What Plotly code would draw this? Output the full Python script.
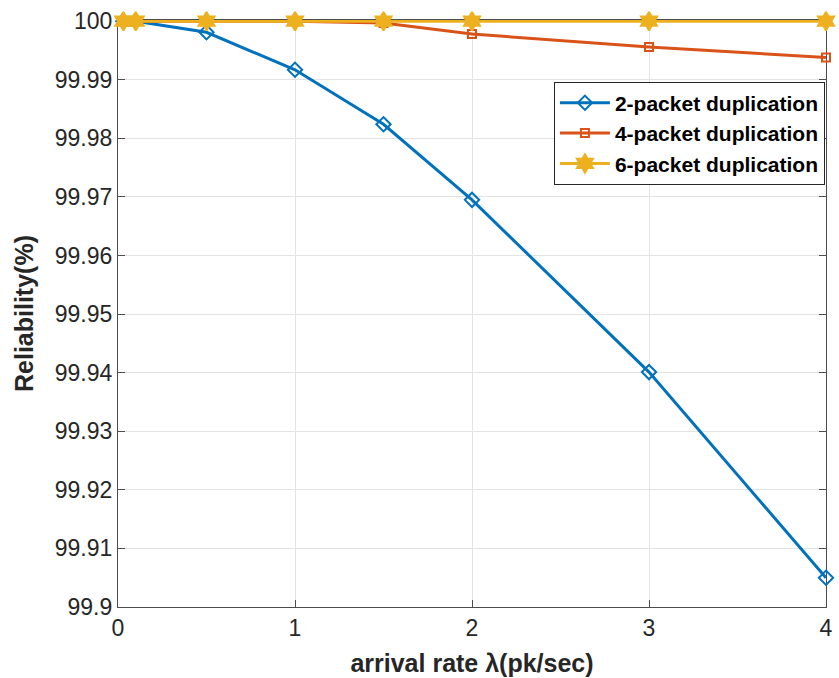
import plotly.graph_objects as go

x_vals = [0.03, 0.1, 0.5, 1, 1.5, 2, 3, 4]
dup2 = [100.0, 100.0, 99.9981, 99.9917, 99.9824, 99.9695, 99.9401, 99.9050]
dup4 = [100.0, 100.0, 100.0, 100.0, 99.9997, 99.9978, 99.9956, 99.9938]
dup6 = [100.0, 100.0, 100.0, 100.0, 100.0, 100.0, 100.0, 100.0]
series_names = ["2-packet duplication", "4-packet duplication", "6-packet duplication"]
y_ticks = [99.9, 99.91, 99.92, 99.93, 99.94, 99.95, 99.96, 99.97, 99.98, 99.99, 100]
y_tick_text = ["99.9", "99.91", "99.92", "99.93", "99.94", "99.95", "99.96", "99.97", "99.98", "99.99", "100"]
x_ticks = [0, 1, 2, 3, 4]

colors = ["#0072BD", "#D95319", "#EDB120"]
symbols = ["diamond-open", "square-open", "hexagram"]
sizes = [11, 8, 14]

fig = go.Figure()
for ys, name, c, s, sz in zip([dup2, dup4, dup6], series_names, colors, symbols, sizes):
    fig.add_trace(go.Scatter(
        x=x_vals, y=ys, name="<b>" + name + "</b>", mode="lines+markers",
        line=dict(color=c, width=3),
        marker=dict(symbol=s, size=sz, color=c, line=dict(color=c, width=2)),
        cliponaxis=False,
    ))

FONT = "Liberation Sans, Arial"
axis_common = dict(
    showline=True, linecolor="#4d4d4d", linewidth=1.2, mirror="ticks",
    ticks="inside", ticklen=7, tickcolor="#4d4d4d",
    showgrid=True, gridcolor="#e3e3e3", gridwidth=1, zeroline=False,
    tickfont=dict(family=FONT, size=23, color="#262626"),
    tickprefix="<b>", ticksuffix="</b>",
    automargin=False, layer="below traces",
)

fig.update_layout(
    width=839, height=678,
    margin=dict(l=118, r=13, t=20, b=71),
    paper_bgcolor="white", plot_bgcolor="white",
    font=dict(family=FONT, color="#262626"),
    xaxis=dict(range=[0, 4], tickvals=x_ticks,
               title=dict(text="<b>arrival rate λ(pk/sec)</b>", font=dict(size=25, color="#262626"), standoff=14),
               **axis_common),
    yaxis=dict(range=[99.9, 100.0002], tickvals=y_ticks, ticktext=y_tick_text,
               title=dict(text="<b>Reliability(%)</b>", font=dict(size=25, color="#262626"), standoff=13),
               **axis_common),
    legend=dict(x=0.9985, xanchor="right", y=0.895, yanchor="top",
                bgcolor="white", bordercolor="#262626", borderwidth=1,
                font=dict(size=21, color="#000000", family=FONT),
                tracegroupgap=0, itemwidth=50),
)

fig.write_html("out.html")
